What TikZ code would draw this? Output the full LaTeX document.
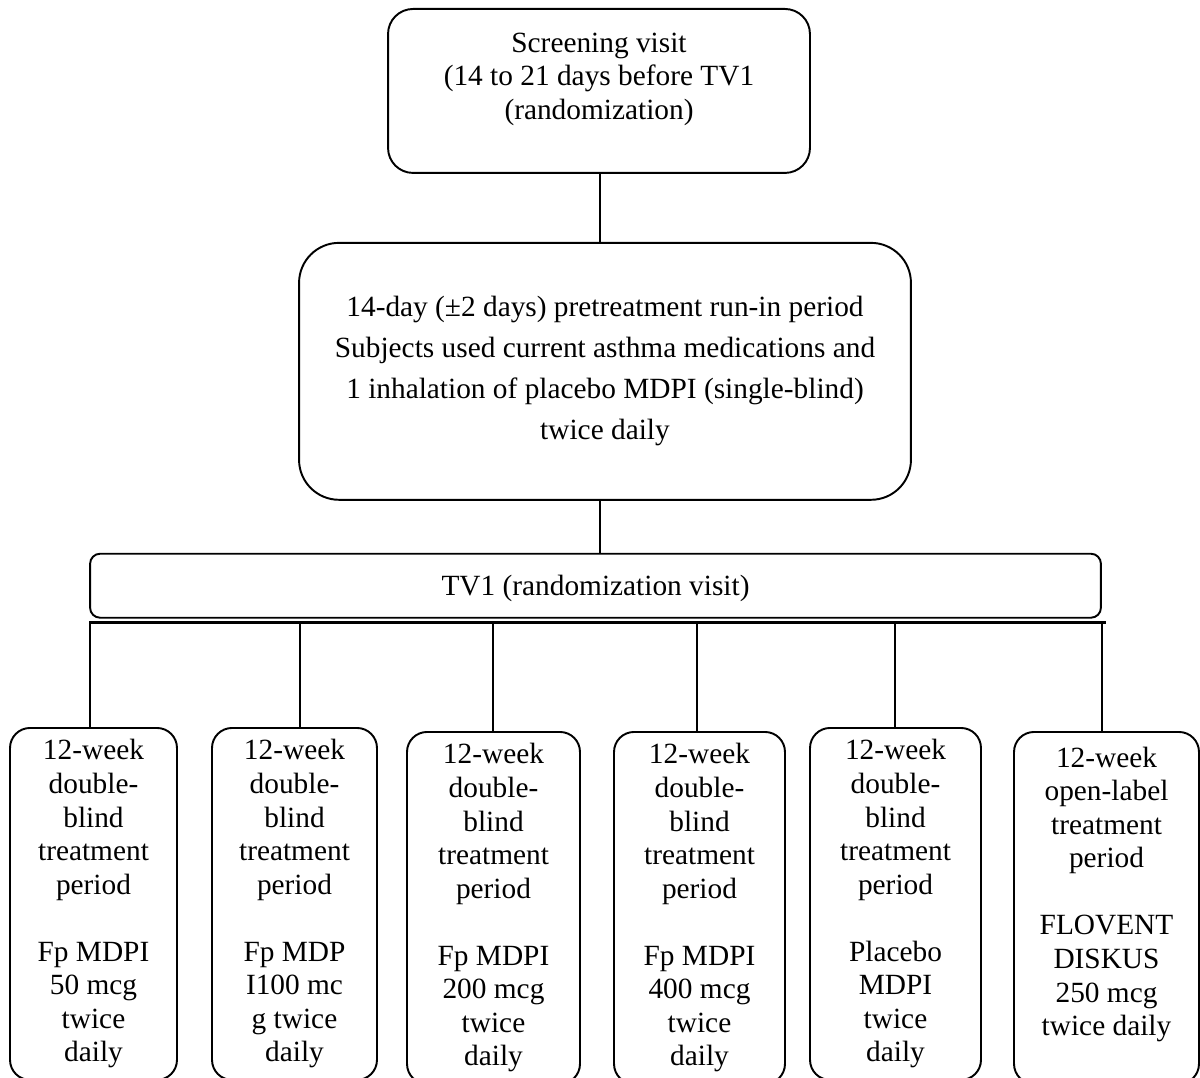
\documentclass[tikz,border=0pt]{standalone}
\usepackage{fontspec}
\setmainfont{Liberation Serif}
\usetikzlibrary{positioning}

\begin{document}
\begin{tikzpicture}[
x=0.02cm, y=-0.02cm,
box/.style={draw, line width=1.1pt, align=center, inner sep=2pt,
  font=\fontsize{16.7}{19.1}\selectfont},
armbox/.style={box, rounded corners=0.4cm, minimum height=7.04cm, anchor=north},
link/.style={line width=1.1pt}
]
\useasboundingbox (0,0) rectangle (1200,1078);
\node[box, rounded corners=0.5cm, minimum width=8.44cm, minimum height=3.28cm, anchor=north] (screen) at (599,8)
{Screening visit\\(14 to 21 days before TV1\\(randomization)\\[-2pt] ~};
\node[box, rounded corners=0.8cm, minimum width=12.24cm, minimum height=5.14cm,
  font=\fontsize{16.7}{23.3}\selectfont, below=1.36cm of screen, xshift=0.12cm] (runin)
{14-day (±2 days) pretreatment run-in period\\Subjects used current asthma medications and\\1 inhalation of placebo MDPI (single-blind)\\twice daily};
\node[box, rounded corners=0.2cm, minimum width=20.22cm, minimum height=1.28cm,
  below=1.04cm of runin, xshift=-0.19cm, text depth=-0.1cm] (tv1) {TV1 (randomization visit)};
\draw[link] (screen.south -| 600,0) -- (runin.north -| 600,0);
\draw[link] (runin.south -| 600,0) -- (tv1.north -| 600,0);
% randomization bar
\coordinate (barL) at ([yshift=-0.08cm]tv1.south west);
\coordinate (barR) at ([shift={(0.08cm,-0.08cm)}]tv1.south east);
\draw[line width=1.6pt] (barL) -- (barR);
% treatment arms
\node[armbox, minimum width=3.34cm] (arm1) at (93.5,727)
{12-week\\double-\\blind\\treatment\\period\\ ~\\Fp MDPI\\50 mcg\\twice\\daily};
\node[armbox, minimum width=3.3cm] (arm2) at (294.5,727)
{12-week\\double-\\blind\\treatment\\period\\ ~\\Fp MDP\\I100 mc\\g twice\\daily};
\node[armbox, minimum width=3.46cm] (arm3) at (493.5,731)
{12-week\\double-\\blind\\treatment\\period\\ ~\\Fp MDPI\\200 mcg\\twice\\daily};
\node[armbox, minimum width=3.42cm] (arm4) at (699.5,731)
{12-week\\double-\\blind\\treatment\\period\\ ~\\Fp MDPI\\400 mcg\\twice\\daily};
\node[armbox, minimum width=3.42cm] (arm5) at (895.5,727)
{12-week\\double-\\blind\\treatment\\period\\ ~\\Placebo\\MDPI\\twice\\daily};
\node[armbox, minimum width=3.7cm] (arm6) at (1106.5,731)
{12-week\\open-label\\treatment\\period\\ ~\\FLOVENT\\DISKUS\\250 mcg\\twice daily\\ ~};
\draw[link] (arm1.north -| 90,0) -- (barL -| 90,0);
\draw[link] (arm2.north -| 300,0) -- (barL -| 300,0);
\draw[link] (arm3.north -| 493,0) -- (barL -| 493,0);
\draw[link] (arm4.north -| 697,0) -- (barL -| 697,0);
\draw[link] (arm5.north -| 895,0) -- (barL -| 895,0);
\draw[link] (arm6.north -| 1102,0) -- (barL -| 1102,0);
\end{tikzpicture}
\end{document}
